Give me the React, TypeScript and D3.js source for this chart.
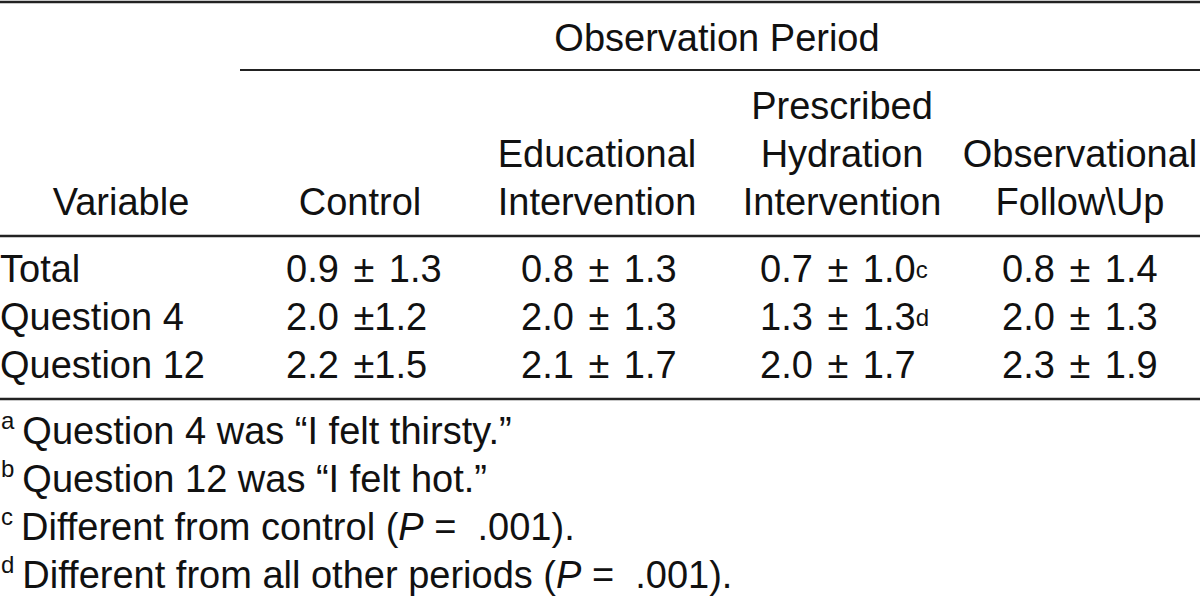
import React from "react";
import * as d3 from "d3";

const variables = ["Total", "Question 4", "Question 12"];
const periods = [
  ["Control"],
  ["Educational", "Intervention"],
  ["Prescribed", "Hydration", "Intervention"],
  ["Observational", "Follow\\Up"],
];
const means = [
  ["0.9", "0.8", "0.7", "0.8"],
  ["2.0", "2.0", "1.3", "2.0"],
  ["2.2", "2.1", "2.0", "2.3"],
];
const sds = [
  ["1.3", "1.3", "1.0", "1.4"],
  ["1.2", "1.3", "1.3", "1.3"],
  ["1.5", "1.7", "1.7", "1.9"],
];
const tightPM = [
  [false, false, false, false],
  [true, false, false, false],
  [true, false, false, false],
];
const cellSup = [
  ["", "", "c", ""],
  ["", "", "d", ""],
  ["", "", "", ""],
];
const footnotes = [
  { mark: "a", parts: [{ t: "Question 4 was \u201cI felt thirsty.\u201d" }] },
  { mark: "b", parts: [{ t: "Question 12 was \u201cI felt hot.\u201d" }] },
  { mark: "c", parts: [{ t: "Different from control (" }, { t: "P", i: true }, { t: " =  .001)." }] },
  { mark: "d", parts: [{ t: "Different from all other periods (" }, { t: "P", i: true }, { t: " =  .001)." }] },
];

const W = 1200;
const H = 599;
const FONT = "'Liberation Sans', Arial, Helvetica, sans-serif";
const FS = 38;

export default function App() {
  const colCenter = d3.scaleOrdinal<number, number>().domain([0, 1, 2, 3]).range([360, 597, 842, 1080]);
  const colLeft = d3.scaleOrdinal<number, number>().domain([0, 1, 2, 3]).range([286, 521, 760, 1002]);
  const rowY = d3.scalePoint<string>().domain(variables).range([282, 378]);
  const footY = d3.scaleLinear().domain([0, 3]).range([444, 588]);
  const headBase = 215;
  const headLineH = 48;

  return (
    <svg width={W} height={H} style={{ position: "absolute", left: 0, top: 0, background: "#fff" }}>
      <rect x={0} y={0} width={W} height={H} fill="#fff" />
      <g fontFamily={FONT} fontSize={FS} fill="#111">
        {/* rules */}
        <line x1={0} x2={W} y1={2} y2={2} stroke="#222" strokeWidth={2.5} />
        <line x1={240} x2={W} y1={70} y2={70} stroke="#222" strokeWidth={2} />
        <line x1={0} x2={W} y1={236} y2={236} stroke="#222" strokeWidth={2.5} />
        <line x1={0} x2={W} y1={399} y2={399} stroke="#222" strokeWidth={2.5} />

        <text x={717} y={51} textAnchor="middle">Observation Period</text>

        <text x={121} y={headBase} textAnchor="middle">Variable</text>
        {periods.map((lines, ci) =>
          lines.map((ln, li) => (
            <text key={ci + "-" + li} x={colCenter(ci)} y={headBase - (lines.length - 1 - li) * headLineH} textAnchor="middle">
              {ln}
            </text>
          ))
        )}

        {variables.map((v, ri) => (
          <g key={v}>
            <text x={0} y={rowY(v)}>{v}</text>
            {means[ri].map((m, ci) => (
              <text key={ci} x={colLeft(ci)} y={rowY(v)} xmlSpace="preserve">
                {m}
                <tspan dx={4}>{tightPM[ri][ci] ? " \u00b1" : " \u00b1 "}</tspan>
                <tspan dx={tightPM[ri][ci] ? 0 : 4}>{sds[ri][ci]}</tspan>
                {cellSup[ri][ci] ? (
                  <tspan fontSize={24} dy={-4}>{cellSup[ri][ci]}</tspan>
                ) : null}
              </text>
            ))}
          </g>
        ))}

        {footnotes.map((f, i) => (
          <text key={f.mark} x={1} y={footY(i)} xmlSpace="preserve">
            <tspan fontSize={24} dy={-15}>{f.mark}</tspan>
            <tspan dy={15} dx={8}>
              {f.parts.map((p, j) => (
                <tspan key={j} fontStyle={p.i ? "italic" : "normal"}>{p.t}</tspan>
              ))}
            </tspan>
          </text>
        ))}
      </g>
    </svg>
  );
}
